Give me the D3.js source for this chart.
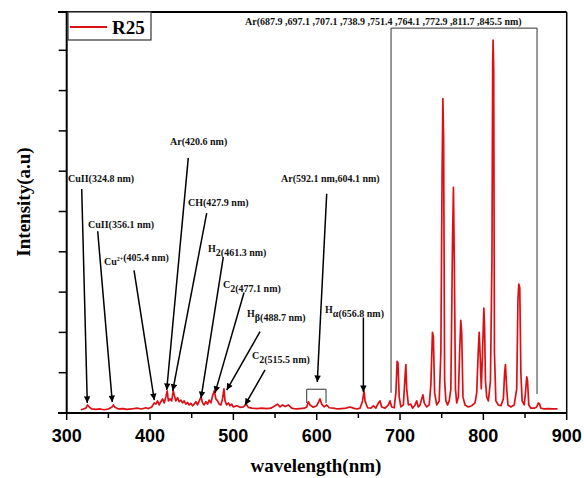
<!DOCTYPE html>
<html>
<head>
<meta charset="utf-8">
<script src="https://cdn.jsdelivr.net/npm/d3@7"></script>
<style>
  body { margin: 0; background: #fff; }
  svg { display: block; }
  .note { font-family: "Liberation Serif", "Times New Roman", serif; font-weight: bold; font-size: 10px; fill: #111; }
</style>
</head>
<body>
<svg id="chart" width="584" height="478"></svg>
<script>
// [wavelength (nm), intensity (a.u.)]
var bandUV = [
    [317, 0.08], [320, 0.1], [323, 0.12], [325, 0.2], [327, 0.15], [330, 0.1], [335, 0.09],
    [340, 0.1], [345, 0.08], [350, 0.1], [354, 0.14], [356, 0.2], [358, 0.14], [362, 0.1],
    [368, 0.11], [372, 0.09], [378, 0.1], [384, 0.12], [390, 0.1], [395, 0.13], [398, 0.11],
    [402, 0.15], [405, 0.25], [407, 0.22], [409, 0.3], [411, 0.2], [413, 0.28], [415, 0.35],
    [417, 0.25], [419, 0.4], [420.6, 0.55], [422, 0.3], [424, 0.35], [426, 0.3], [427.9, 0.55],
    [429, 0.45], [431, 0.3], [433, 0.38], [435, 0.28], [437, 0.32], [439, 0.25], [441, 0.3],
    [443, 0.22], [445, 0.26], [447, 0.2], [449, 0.24], [451, 0.18], [453, 0.22], [455, 0.28],
    [457, 0.2], [459, 0.3], [461.3, 0.4], [463, 0.25], [465, 0.2], [467, 0.28], [469, 0.22],
    [471, 0.32], [473, 0.25], [475, 0.42], [477.1, 0.55], [479, 0.35], [481, 0.3], [483, 0.22],
    [485, 0.2], [487, 0.35], [488.7, 0.6], [490, 0.3], [492, 0.2], [494, 0.25], [496, 0.18],
    [498, 0.22], [500, 0.15], [504, 0.18], [508, 0.14], [512, 0.15], [515.5, 0.22], [518, 0.14],
    [522, 0.12], [528, 0.11], [534, 0.12], [540, 0.11]
];

var bandVis = [
    [545, 0.12], [550, 0.18], [553, 0.22], [556, 0.15], [559, 0.2], [562, 0.16], [566, 0.2],
    [570, 0.12], [575, 0.1], [580, 0.11], [585, 0.12], [588, 0.15], [590, 0.28], [592, 0.2],
    [596, 0.14], [600, 0.18], [604, 0.35], [606, 0.22], [609, 0.15], [612, 0.2], [615, 0.13],
    [620, 0.12], [625, 0.1], [630, 0.11], [635, 0.12], [640, 0.15], [644, 0.12], [648, 0.1],
    [652, 0.12], [655, 0.3], [656.8, 0.55], [658, 0.3], [661, 0.13], [665, 0.12], [668, 0.18],
    [671, 0.12], [674, 0.25], [676, 0.3], [678, 0.15], [682, 0.12], [686, 0.2], [688, 0.3],
    [690, 0.15]
];

var bandAr = [
    [693, 0.13], [695, 0.5], [696.5, 1.28], [697.5, 1.25], [699, 0.4], [701, 0.15], [704, 0.2],
    [706, 0.9], [707, 1.2], [708, 0.6], [710, 0.2], [713, 0.22], [715, 0.12], [718, 0.2],
    [720, 0.3], [722, 0.15], [724, 0.2], [726, 0.35], [727.5, 0.45], [729, 0.25], [732, 0.15],
    [735, 0.2], [737, 0.7], [738.9, 2.0], [740, 1.9], [741.5, 0.5], [744, 0.2], [747, 0.3],
    [749, 1.5], [750.5, 6.0], [751.4, 7.8], [752.3, 6.8], [753.5, 0.8], [755, 0.3], [757, 0.2],
    [759, 0.3], [761, 0.6], [763, 4.3], [764.1, 5.6], [765.2, 3.6], [766.5, 0.6], [768, 0.25],
    [770, 0.4], [771.5, 1.5], [772.9, 2.3], [774, 2.0], [775.5, 0.4], [778, 0.2], [782, 0.15],
    [786, 0.18], [790, 0.25], [792, 0.5], [794, 1.6], [795, 2.0], [796.2, 1.4], [797.5, 0.6],
    [799, 1.5], [800.6, 2.6], [801.5, 2.1], [802.5, 0.8], [804, 0.4], [806, 0.3], [808.5, 0.8],
    [810.3, 3.8], [811.2, 8.7], [811.7, 9.25], [812.4, 8.5], [813.3, 1.5], [815, 0.3], [818, 0.2],
    [821, 0.18], [824, 0.35], [825.5, 1.0], [826.5, 1.2], [828, 0.6], [829.5, 0.2], [833, 0.15],
    [837, 0.2], [840, 0.6], [841.5, 2.8], [842.5, 3.2], [843.7, 3.1], [845, 1.0], [846.5, 0.3],
    [849, 0.2], [850.5, 0.5], [852, 0.9], [853, 0.8], [854.5, 0.2], [857, 0.12], [861, 0.12],
    [864, 0.15], [866, 0.25], [867.5, 0.22], [869, 0.12], [873, 0.1], [878, 0.11], [883, 0.1],
    [889, 0.1]
];

var xTicks = [300, 400, 500, 600, 700, 800, 900];
var xMinor = [350, 450, 550, 650, 750, 850];
var yTicks = [1, 2, 3, 4, 5, 6, 7, 8, 9];

// callouts: text, arrow tip, arrow tail and label anchor, all in [nm, a.u.]
var callouts = [
    {text: "CuII(324.8 nm)", tip: [324.7, 0.25], tail: [318, 5.56], label: [301.6, 5.74]},
    {text: "CuII(356.1 nm)", tip: [354.7, 0.27], tail: [337.2, 4.51], label: [325.6, 4.59]},
    {text: "Cu|2+|(405.4 nm)", tip: [405.1, 0.32], tail: [380.8, 3.54], label: [344.8, 3.67]},
    {text: "Ar(420.6 nm)", tip: [420, 0.57], tail: [445.9, 6.33], label: [424, 6.66]},
    {text: "CH(427.9 nm)", tip: [427.2, 0.55], tail: [468, 4.96], label: [445.6, 5.14]},
    {text: "H_2_(461.3 nm)", tip: [461.2, 0.37], tail: [487.9, 3.87], label: [469.6, 3.99]},
    {text: "C_2_(477.1 nm)", tip: [478, 0.5], tail: [512.8, 2.99], label: [487.6, 3.09]},
    {text: "H_β_(488.7 nm)", tip: [492, 0.57], tail: [532, 2.02], label: [516.4, 2.37]},
    {text: "C_2_(515.5 nm)", tip: [514, 0.2], tail: [538, 1.07], label: [522.4, 1.35]},
    {text: "Ar(592.1 nm,604.1 nm)", tip: [600.7, 0.77], tail: [612, 5.44], label: [557.2, 5.74]},
    {text: "H_α_(656.8 nm)", tip: [656, 0.52], tail: [656, 2.37], label: [610, 2.47]}
];

var arList = "Ar(687.9 ,697.1 ,707.1 ,738.9 ,751.4 ,764.1 ,772.9 ,811.7 ,845.5 nm)";

var svg = d3.select("#chart");
var plotL = 66.7, plotR = 566.7, plotT = 12, plotB = 413;

var x = d3.scaleLinear().domain([300, 900]).range([plotL, plotR]);
var y = d3.scaleLinear().domain([0, 9.95]).range([plotB, plotT]);

svg.append("defs").append("marker")
    .attr("id", "head")
    .attr("viewBox", "0 0 10 10")
    .attr("refX", 10).attr("refY", 5)
    .attr("markerWidth", 10).attr("markerHeight", 6.5)
    .attr("markerUnits", "userSpaceOnUse")
    .attr("orient", "auto")
    .append("path").attr("d", "M0,0L10,5L0,10Z").attr("fill", "#000");

// spectrum
var line = d3.line().x(d => x(d[0])).y(d => y(d[1]));
svg.append("path")
    .datum(bandUV.concat(bandVis, bandAr))
    .attr("d", line)
    .attr("fill", "none")
    .attr("stroke", "#dc1014")
    .attr("stroke-width", 1.7)
    .attr("stroke-linejoin", "round");

// Ar box and the little bracket around 592/604
svg.append("path")
    .attr("d", "M" + x(689.2) + "," + y(0.5) + "V" + y(9.55) + "H" + x(864.4) + "V" + y(0.47))
    .attr("fill", "none").attr("stroke", "#333").attr("stroke-width", 1);
svg.append("path")
    .attr("d", "M" + x(588) + "," + y(0.25) + "V" + y(0.59) + "H" + x(611.2) + "V" + y(0.25))
    .attr("fill", "none").attr("stroke", "#333").attr("stroke-width", 1);

svg.append("text").attr("class", "note")
    .attr("x", 245).attr("y", 25)
    .text(arList);

// callouts
callouts.forEach(function(c) {
    svg.append("line")
        .attr("x1", x(c.tail[0])).attr("y1", y(c.tail[1]))
        .attr("x2", x(c.tip[0])).attr("y2", y(c.tip[1]))
        .attr("stroke", "#000").attr("stroke-width", 1.5)
        .attr("marker-end", "url(#head)");

    var t = svg.append("text").attr("class", "note")
        .attr("x", x(c.label[0])).attr("y", y(c.label[1]));
    // _x_ = subscript, |x| = superscript
    c.text.split(/(_[^_]+_|\|[^|]+\|)/).forEach(function(part) {
        if (!part) return;
        if (part[0] === "_") {
            t.append("tspan").attr("dy", 4).text(part.slice(1, -1));
            t.append("tspan").attr("dy", -4).text("");
        } else if (part[0] === "|") {
            t.append("tspan").attr("dy", -4).attr("font-size", 6).text(part.slice(1, -1));
            t.append("tspan").attr("dy", 4).text("");
        } else {
            t.append("tspan").text(part);
        }
    });
});

// frame
svg.append("line").attr("x1", 58).attr("x2", plotR).attr("y1", plotT).attr("y2", plotT)
    .attr("stroke", "#000").attr("stroke-width", 2);
svg.append("line").attr("x1", plotR).attr("x2", plotR).attr("y1", plotT).attr("y2", plotB)
    .attr("stroke", "#000").attr("stroke-width", 1.5);
svg.append("line").attr("x1", plotL).attr("x2", plotL).attr("y1", plotT).attr("y2", plotB)
    .attr("stroke", "#000").attr("stroke-width", 2);
svg.append("line").attr("x1", 58).attr("x2", plotR).attr("y1", plotB).attr("y2", plotB)
    .attr("stroke", "#000").attr("stroke-width", 2);

// x axis
var xAxis = svg.append("g").attr("transform", "translate(0," + plotB + ")");
xAxis.selectAll(".maj").data(xTicks).enter().append("line")
    .attr("x1", d => x(d)).attr("x2", d => x(d)).attr("y1", 0).attr("y2", 7)
    .attr("stroke", "#000").attr("stroke-width", 1.5);
xAxis.selectAll(".min").data(xMinor).enter().append("line")
    .attr("x1", d => x(d)).attr("x2", d => x(d)).attr("y1", 0).attr("y2", 5)
    .attr("stroke", "#000").attr("stroke-width", 1.5);
xAxis.selectAll("text").data(xTicks).enter().append("text")
    .attr("x", d => x(d)).attr("y", 28.5)
    .attr("text-anchor", "middle")
    .attr("font-family", "Liberation Sans, Arial, sans-serif")
    .attr("font-weight", "bold").attr("font-size", 18)
    .text(d => d);

// y axis, ticks only
svg.append("g").selectAll("line").data(yTicks).enter().append("line")
    .attr("x1", plotL - 8).attr("x2", plotL)
    .attr("y1", d => y(d)).attr("y2", d => y(d))
    .attr("stroke", "#000").attr("stroke-width", 1.5);

svg.append("text")
    .attr("x", 316).attr("y", 472)
    .attr("text-anchor", "middle")
    .attr("font-family", "Liberation Serif, Times New Roman, serif")
    .attr("font-weight", "bold").attr("font-size", 19)
    .text("wavelength(nm)");

svg.append("text")
    .attr("transform", "translate(30,202) rotate(-90)")
    .attr("text-anchor", "middle")
    .attr("font-family", "Liberation Serif, Times New Roman, serif")
    .attr("font-weight", "bold").attr("font-size", 19)
    .text("Intensity(a.u)");

// legend
var lg = svg.append("g");
lg.append("rect").attr("x", 68).attr("y", 12).attr("width", 83).attr("height", 28)
    .attr("fill", "#fff").attr("stroke", "#333").attr("stroke-width", 1.2);
lg.append("line").attr("x1", 70).attr("x2", 107).attr("y1", 27).attr("y2", 27)
    .attr("stroke", "#dc1014").attr("stroke-width", 2);
lg.append("text").attr("x", 112).attr("y", 34)
    .attr("font-family", "Liberation Serif, Times New Roman, serif")
    .attr("font-weight", "bold").attr("font-size", 19)
    .text("R25");
</script>
</body>
</html>
